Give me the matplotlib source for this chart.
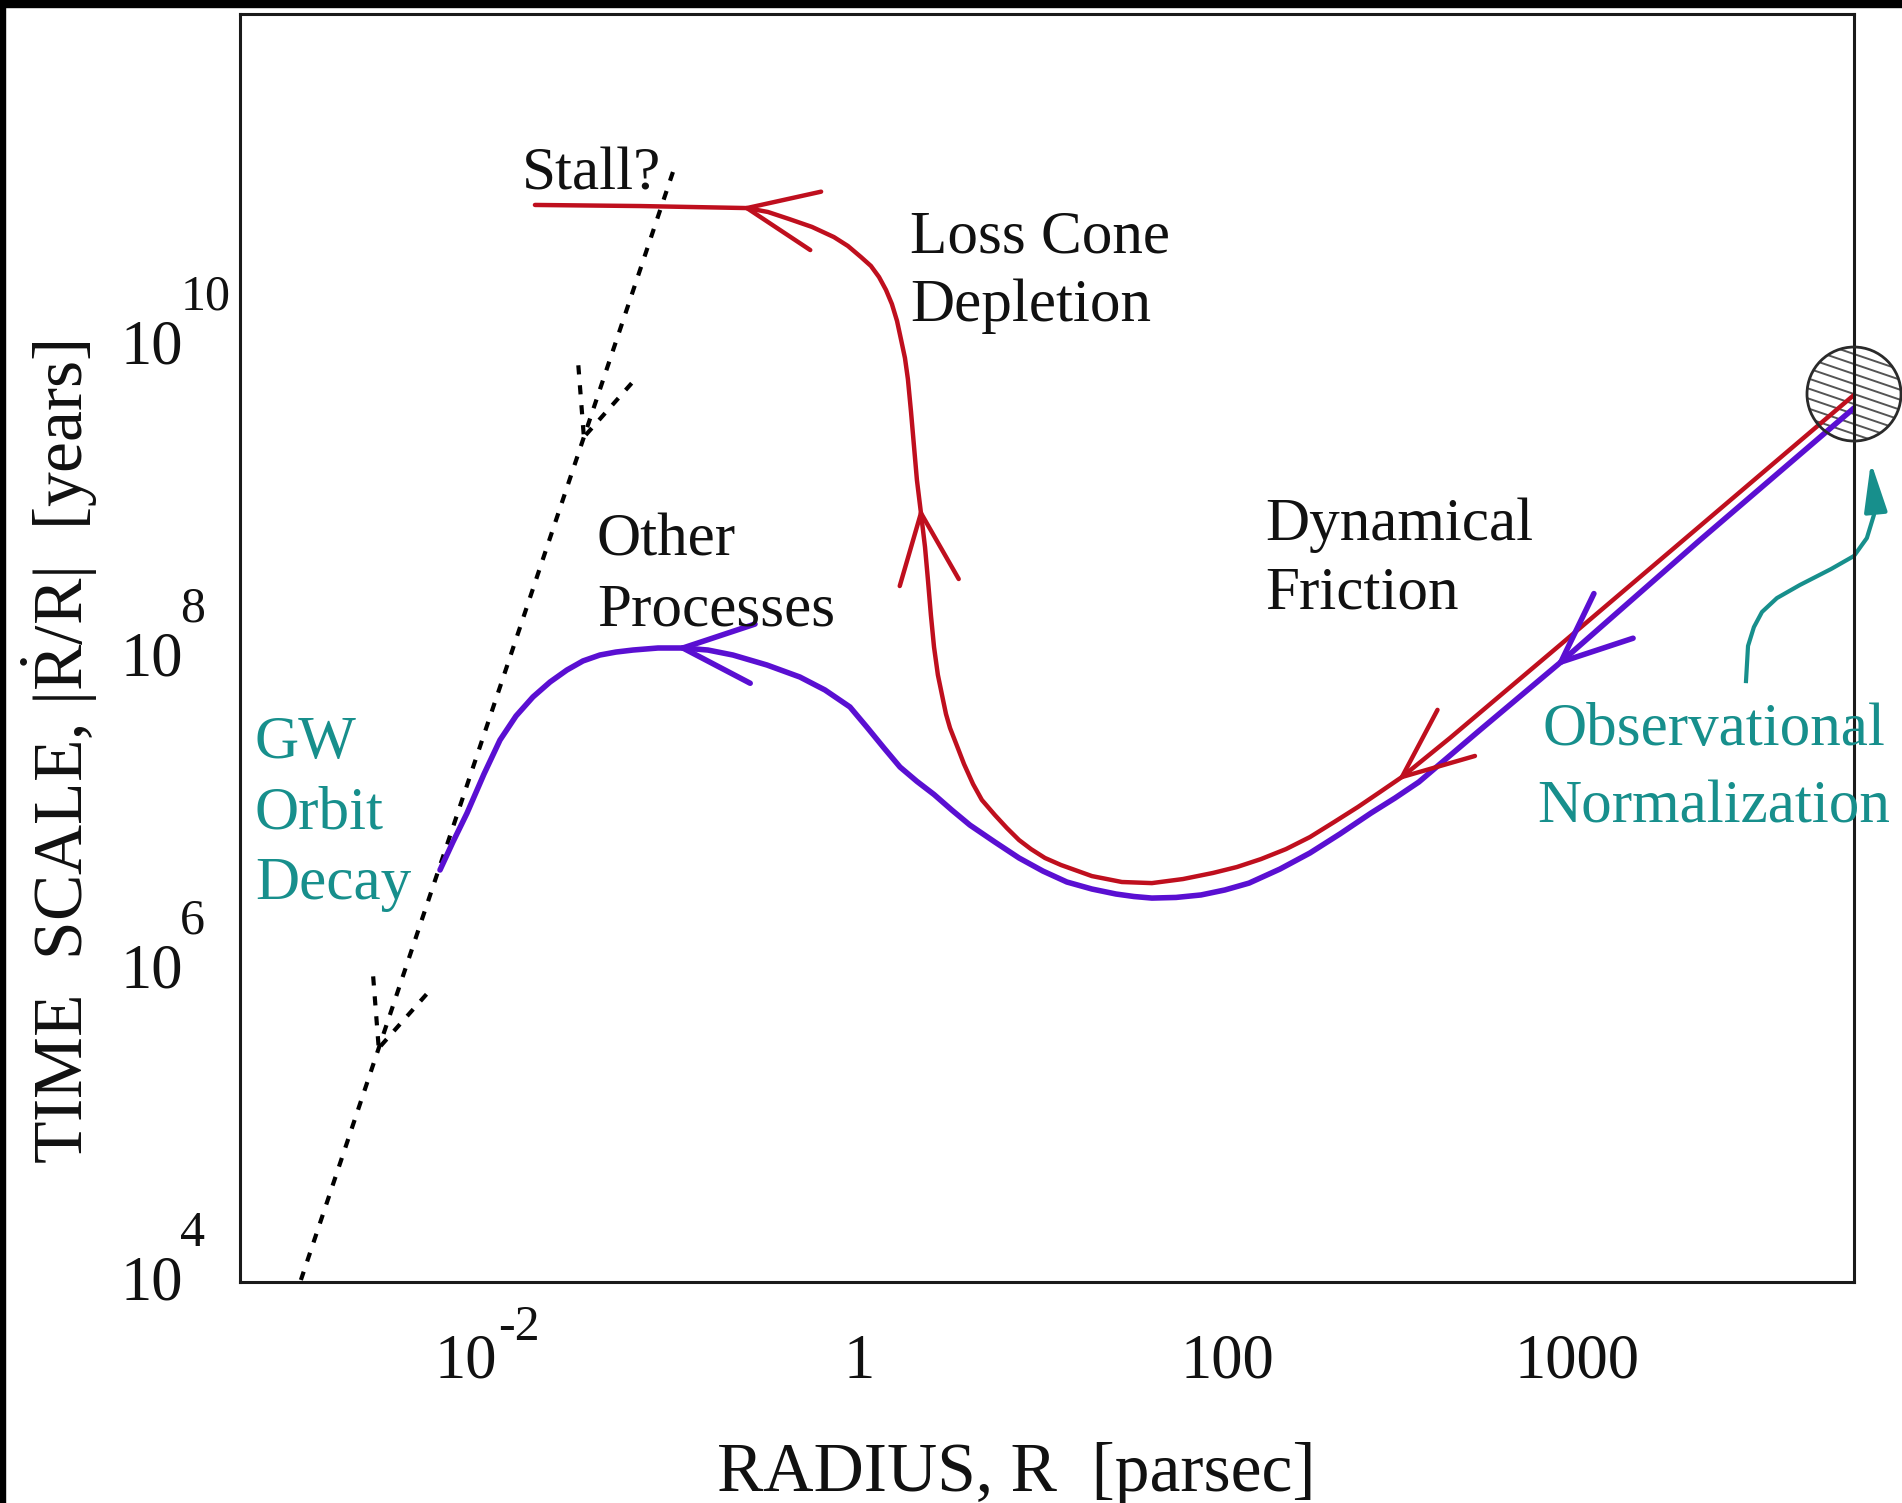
import matplotlib
matplotlib.use('Agg')
import matplotlib.pyplot as plt
import matplotlib.transforms as mtransforms
from matplotlib.patches import Circle, Rectangle
from matplotlib.lines import Line2D
from matplotlib.ticker import NullLocator
import numpy as np

plt.rcParams['font.family'] = 'Liberation Serif'
plt.rcParams['mathtext.fontset'] = 'custom'
plt.rcParams['mathtext.rm'] = 'Liberation Serif'
plt.rcParams['mathtext.it'] = 'Liberation Serif:italic'
plt.rcParams['mathtext.bf'] = 'Liberation Serif:bold'

RED = '#bf0f1e'
BLUE = '#5a0fd2'
TEAL = '#178f8c'
INK = '#111111'

# loss-cone track, log10 R [pc] / log10 T [yr], from large radius inwards
red_logR = [5.408, 4.571, 3.810, 3.212, 2.951, 2.832, 2.712, 2.582, 2.451, 2.321,
            2.185, 2.054, 1.924, 1.761, 1.592, 1.429, 1.266, 1.098, 1.011, 0.935,
            0.870, 0.804, 0.739, 0.668, 0.620, 0.571, 0.533, 0.495, 0.473, 0.457,
            0.429, 0.408, 0.391, 0.375, 0.359, 0.337, 0.315, 0.299, 0.283, 0.266,
            0.250, 0.228, 0.207, 0.179, 0.147, 0.109, 0.065, 0.011, -0.060, -0.136,
            -0.255, -0.380, -0.495, -0.609, -1.190, -1.761]
red_logT = [9.667, 8.827, 8.064, 7.468, 7.218, 7.122, 7.026, 6.929, 6.833, 6.756,
            6.692, 6.641, 6.603, 6.564, 6.538, 6.545, 6.583, 6.654, 6.699, 6.756,
            6.814, 6.891, 6.974, 7.071, 7.173, 7.301, 7.417, 7.532, 7.622, 7.712,
            7.872, 8.051, 8.256, 8.481, 8.692, 8.910, 9.122, 9.340, 9.558, 9.769,
            9.904, 10.026, 10.141, 10.250, 10.340, 10.423, 10.494, 10.551, 10.622, 10.679,
            10.744, 10.795, 10.840, 10.865, 10.878, 10.885]
red_arrows = [4, 35, 53]

# track with other processes refilling the loss cone
blue_logR = [5.408, 4.571, 3.815, 3.375, 3.043, 2.913, 2.783, 2.614, 2.451, 2.288,
             2.120, 1.989, 1.859, 1.723, 1.592, 1.495, 1.397, 1.266, 1.130, 1.000,
             0.870, 0.739, 0.603, 0.505, 0.408, 0.315, 0.223, 0.136, 0.043, -0.049,
             -0.185, -0.321, -0.500, -0.685, -0.821, -0.957, -1.092, -1.228, -1.321, -1.408,
             -1.500, -1.587, -1.679, -1.772, -1.864, -1.951, -2.038, -2.130, -2.207, -2.277]
blue_logT = [9.583, 8.737, 7.955, 7.519, 7.186, 7.083, 6.987, 6.853, 6.731, 6.628,
             6.538, 6.494, 6.462, 6.446, 6.442, 6.452, 6.468, 6.500, 6.545, 6.615,
             6.699, 6.801, 6.910, 7.006, 7.106, 7.190, 7.282, 7.404, 7.538, 7.667,
             7.776, 7.859, 7.936, 8.000, 8.032, 8.045, 8.045, 8.032, 8.019, 8.000,
             7.962, 7.904, 7.827, 7.731, 7.609, 7.455, 7.237, 6.987, 6.801, 6.622]
blue_arrows = [2, 35]

# gravitational-wave decay line
gw_logR = [-1.011, -1.495, -2.610, -3.033]
gw_logT = [11.096, 9.397, 5.480, 3.994]
gw_arrows = [1, 2]

# pointer from the normalization label to the outer radius
norm_logR = [4.821, 4.832, 4.864, 4.908, 4.989, 5.114, 5.283, 5.408, 5.478, 5.516, 5.522, 5.500]
norm_logT = [7.833, 8.058, 8.179, 8.276, 8.365, 8.449, 8.551, 8.635, 8.750, 8.897, 8.968, 9.237]

start_logR, start_logT = 5.408, 9.673

# tick positions (log10) with their printed base and exponent
xtick_logR = [-2, 0, 2, 3.9]
xtick_base = ['10', '1', '100', '1000']
xtick_exp = ['-2', '', '', '']
ytick_logT = [4, 6, 8, 10]
ytick_exp = ['4', '6', '8', '10']

labels = [
    ('Stall?', -1.832, 10.981, 'left', INK),
    ('Loss Cone', 0.277, 10.583, 'left', INK),
    ('Depletion', 0.277, 10.141, 'left', INK),
    ('Other', -1.424, 8.635, 'left', INK),
    ('Processes', -1.424, 8.192, 'left', INK),
    ('Dynamical', 2.207, 8.737, 'left', INK),
    ('Friction', 2.207, 8.295, 'left', INK),
    ('GW', -3.283, 7.340, 'left', TEAL),
    ('Orbit', -3.283, 6.888, 'left', TEAL),
    ('Decay', -3.283, 6.436, 'left', TEAL),
    ('Observational', 4.647, 7.423, 'center', TEAL),
    ('Normalization', 4.647, 6.929, 'center', TEAL),
]


def pw(v):
    return 10.0 ** np.asarray(v, dtype=float)


def open_head(ax, lr, lt, i, color, lw, ls='-', length=76, spread=23):
    # two wings at point i, pointing along the track from i-1 to i
    to_px = ax.transData.transform
    tip = to_px((10 ** lr[i], 10 ** lt[i]))
    back = to_px((10 ** lr[i - 1], 10 ** lt[i - 1]))
    d = (back - tip) / np.hypot(*(back - tip))
    for a in (np.radians(spread), -np.radians(spread)):
        rot = np.array([[np.cos(a), -np.sin(a)], [np.sin(a), np.cos(a)]])
        end = tip + length * rot @ d
        wx, wy = ax.transData.inverted().transform([end, tip]).T
        ax.plot(wx, wy, color=color, lw=lw, ls=ls, solid_capstyle='round')


fig = plt.figure(figsize=(19.02, 15.03), dpi=100)
fig.patch.set_facecolor('white')
fig.patches.append(Rectangle((0, 1 - 7 / 1503), 1, 7 / 1503, transform=fig.transFigure,
                             color='black', zorder=0))
fig.patches.append(Rectangle((0, 0), 5 / 1902, 1, transform=fig.transFigure,
                             color='black', zorder=0))

ax = fig.add_axes([240 / 1902, 221 / 1503, 1614 / 1902, 1268 / 1503])
ax.set_xscale('log')
ax.set_yscale('log')
ax.set_xlim(10 ** -3.364, 10 ** 5.408)
ax.set_ylim(10 ** 3.981, 10 ** 12.109)
ax.autoscale(False)

for s in ax.spines.values():
    s.set_linewidth(2.2)
    s.set_color('#1a1a1a')

ax.set_xticks(pw(xtick_logR))
ax.set_yticks(pw(ytick_logT))
ax.xaxis.set_minor_locator(NullLocator())
ax.yaxis.set_minor_locator(NullLocator())
ax.tick_params(axis='both', length=0, labelbottom=False, labelleft=False)

# tick labels with large raised exponents
xtr = ax.get_xaxis_transform()
for lr, base, ex in zip(xtick_logR, xtick_base, xtick_exp):
    if ex:
        ax.annotate(base, (10 ** lr, 0), xycoords=xtr, xytext=(4, -69),
                    textcoords='offset points', ha='right', va='baseline',
                    fontsize=45, color=INK)
        ax.annotate(ex, (10 ** lr, 0), xycoords=xtr, xytext=(5, -42),
                    textcoords='offset points', ha='left', va='baseline',
                    fontsize=36, color=INK)
    else:
        ax.annotate(base, (10 ** lr, 0), xycoords=xtr, xytext=(0, -69),
                    textcoords='offset points', ha='center', va='baseline',
                    fontsize=45, color=INK)

ytr = ax.get_yaxis_transform()
for lt, ex in zip(ytick_logT, ytick_exp):
    ax.annotate('10', (0, 10 ** lt), xycoords=ytr, xytext=(-41, -15),
                textcoords='offset points', ha='right', va='baseline',
                fontsize=45, color=INK)
    ax.annotate(ex, (0, 10 ** lt), xycoords=ytr, xytext=(-43, 24),
                textcoords='offset points', ha='left', va='baseline',
                fontsize=36, color=INK)

ax.set_xlabel('RADIUS, R  [parsec]', fontsize=50, color=INK)
ax.xaxis.set_label_coords(0.481, -0.126)
ax.set_ylabel(r'TIME  SCALE, $|\dot{\mathrm{R}}/\mathrm{R}|$  [years]', fontsize=50, color=INK)
ax.yaxis.set_label_coords(-0.087, 0.418)

# tracks
ax.plot(pw(gw_logR), pw(gw_logT), color='black', lw=3, ls=(0, (2.2, 2.6)))
ax.plot(pw(blue_logR), pw(blue_logT), color=BLUE, lw=4,
        solid_capstyle='round', solid_joinstyle='round')
ax.plot(pw(red_logR), pw(red_logT), color=RED, lw=3.2,
        solid_capstyle='round', solid_joinstyle='round')

for i in red_arrows:
    open_head(ax, red_logR, red_logT, i, RED, 3.2)
for i in blue_arrows:
    open_head(ax, blue_logR, blue_logT, i, BLUE, 4)
for i in gw_arrows:
    open_head(ax, gw_logR, gw_logT, i, 'black', 3, ls=(0, (2.2, 2.6)), length=72)

# hatched disc at the starting radius
trans = fig.dpi_scale_trans + mtransforms.ScaledTranslation(
    10 ** start_logR, 10 ** start_logT, ax.transData)
disc = Circle((0, 0), 0.47, transform=trans, fill=False, ec='#2a2a2a', lw=2,
              clip_on=False, zorder=4)
ax.add_patch(disc)
for c in np.arange(-0.6, 0.61, 0.1):
    hx = np.array([-0.6, 0.6])
    hatch = Line2D(hx, -0.34 * hx + c, transform=trans, color='#555555', lw=1.4, zorder=1)
    hatch.set_clip_path(disc)
    ax.add_line(hatch)

# pointer
ax.plot(pw(norm_logR[:-1]), pw(norm_logT[:-1]), color=TEAL, lw=3, clip_on=False,
        solid_joinstyle='round')
ax.annotate('', xy=(10 ** norm_logR[-1], 10 ** norm_logT[-1]),
            xytext=(10 ** norm_logR[-2], 10 ** norm_logT[-2]),
            arrowprops=dict(arrowstyle='-|>,head_length=1.5,head_width=0.35',
                            color=TEAL, lw=3, shrinkA=0, shrinkB=0,
                            mutation_scale=20),
            annotation_clip=False)

for txt, lr, lt, ha, col in labels:
    ax.text(10 ** lr, 10 ** lt, txt, fontsize=44, color=col, ha=ha, va='baseline')

fig.savefig('out.png', dpi=100, facecolor='white')
